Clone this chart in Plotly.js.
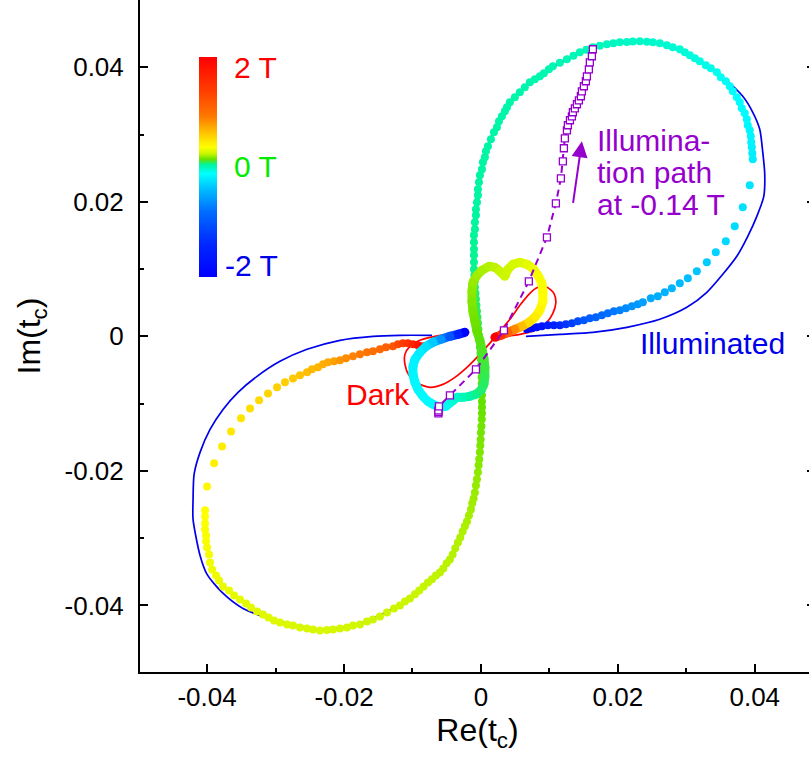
<!DOCTYPE html>
<html><head><meta charset="utf-8">
<script src="https://cdn.plot.ly/plotly-3.0.1.min.js"></script>
<style>html,body{margin:0;padding:0;overflow:hidden;background:#fff;width:809px;height:759px}#plot{position:absolute;left:0;top:-20px;width:817px;height:779px}</style>
</head><body><div id="plot"></div><script>
// ---------- data (Re(t_c), Im(t_c), field B in tesla) ----------
// Illuminated data, in sweep order from -2 T to +2 T
const illumA_X=[0.00672,0.00745,0.00818,0.00891,0.00978,0.01066,0.01153,0.01241,0.01329,0.01416,0.01504,0.01591,0.01679,0.01767,0.01854,0.01942,0.02029,0.02117,0.02205,0.02292,0.02365];
const illumA_Y=[0.00104,0.00119,0.00134,0.00149,0.00164,0.00164,0.00164,0.00178,0.00193,0.00223,0.00238,0.00268,0.00283,0.00312,0.00342,0.00372,0.00387,0.00416,0.00446,0.00476,0.00506];
const illumA_B=[-2,-1.9,-1.8,-1.7,-1.6,-1.5,-1.4,-1.3,-1.2,-1.1,-1.0,-0.95,-0.9,-0.85,-0.8,-0.75,-0.7,-0.66,-0.62,-0.58,-0.55];
const illumB_X=[0.02482,0.02584,0.02686,0.02789,0.02905,0.03022,0.03154,0.033,0.03431,0.03577,0.03708,0.03825,0.03927];
const illumB_Y=[0.00565,0.00595,0.00654,0.00714,0.00788,0.00862,0.00967,0.011,0.01249,0.01413,0.01636,0.01918,0.02245];
const illumB_B=[-0.5,-0.48,-0.46,-0.44,-0.42,-0.4,-0.37,-0.34,-0.31,-0.29,-0.27,-0.25,-0.23];
const illumC_X=[0.03971,0.03964,0.03957,0.03949,0.03942,0.03927,0.03898,0.03884,0.03854,0.03811,
0.03781,0.03738,0.03679,0.03635,0.03577,0.03504,0.03446,0.03358,0.03285,0.03197,
0.03124,0.03051,0.02978,0.02905,0.02803,0.02716,0.02613,0.02511,0.02424,0.02321,
0.02219,0.02132,0.02029,0.01935,0.0184,0.01737,0.01635,0.0154,0.01445,0.01351,
0.01256,0.01153,0.01051,0.00993,0.0092,0.00861,0.00788,0.00715,0.00642,0.00569,
0.00496,0.00423,0.0038,0.0035,0.00307,0.00263,0.00234,0.0019,0.00146,0.00102,
0.00073,0.00058,0.00029,0.00015,-0.00015,-0.00029,-0.00044,-0.00044,-0.00058,-0.00073,
-0.00073,-0.00088,-0.00088,-0.00102,-0.00102,-0.00102,-0.00102,-0.00102];
const illumC_Y=[0.02632,0.02721,0.0281,0.02885,0.02974,0.03063,0.03138,0.03227,0.03316,0.0339,
0.0348,0.03554,0.03643,0.03718,0.03792,0.03851,0.03926,0.03985,0.0403,0.04089,
0.04134,0.04178,0.04223,0.04268,0.04297,0.04327,0.04357,0.04372,0.04379,0.04387,
0.04382,0.04376,0.04372,0.04357,0.04342,0.0432,0.04297,0.0426,0.04223,0.04171,
0.04119,0.04067,0.04015,0.0397,0.03911,0.03866,0.03822,0.03777,0.03703,0.03628,
0.03554,0.0348,0.03405,0.03346,0.03271,0.03197,0.03108,0.03033,0.02929,0.02825,
0.02751,0.02662,0.02587,0.02483,0.02394,0.0229,0.02186,0.02097,0.01993,0.01888,
0.01799,0.01695,0.01591,0.01502,0.01398,0.01294,0.01204,0.011];
const illumC_B=[-0.2,-0.19,-0.18,-0.172,-0.165,-0.158,-0.152,-0.146,-0.14,-0.134,
-0.128,-0.122,-0.116,-0.11,-0.104,-0.098,-0.092,-0.086,-0.08,-0.074,
-0.068,-0.062,-0.057,-0.052,-0.047,-0.042,-0.038,-0.034,-0.03,-0.026,
-0.023,-0.02,-0.017,-0.014,-0.011,-0.008,-0.005,-0.002,0.0,0.002,
0.004,0.006,0.008,0.01,0.012,0.014,0.016,0.018,0.019,0.02,
0.021,0.022,0.023,0.024,0.025,0.026,0.027,0.028,0.029,0.03,
0.031,0.032,0.033,0.034,0.035,0.036,0.037,0.038,0.039,0.04,
0.041,0.042,0.043,0.044,0.045,0.046,0.047,0.048];
const illumD_X=[-0.00102,-0.00095,-0.00088,-0.00088,-0.0008,-0.00073,-0.00066,-0.00058,-0.00051,-0.00044,
-0.00037,-0.00029,-0.00022,-0.00015,-0.00007,0,0.00004,0.00007,0.0001,0.00012,
0.00015,0.00015,0.00015,0.00015,0.00015,0.00012,0.00007,0,-0.00004,-0.0001,
-0.00015,-0.00025,-0.00034,-0.00044,-0.00058,-0.00073,-0.00088,-0.00107,-0.00127,-0.00146,
-0.00175,-0.00204,-0.00234,-0.00267,-0.00302,-0.00336,-0.00375,-0.00413,-0.00453,-0.00501,
-0.0055,-0.00599,-0.00657,-0.00715,-0.00774,-0.00837,-0.00901,-0.00964,-0.01037,-0.0111,
-0.01183,-0.0127,-0.01372,-0.01475,-0.01577,-0.01664,-0.01767,-0.01869,-0.01956,-0.02059,
-0.02161,-0.02248,-0.02351,-0.02453,-0.0254,-0.02643,-0.02745,-0.02832,-0.02935,-0.03022,
-0.03103,-0.03183,-0.0327,-0.03358,-0.03431,-0.03519,-0.03606,-0.03679,-0.03767,-0.03825,
-0.03869,-0.03927,-0.03957,-0.03971,-0.04,-0.04015,-0.04015,-0.0403,-0.0403,-0.0403,-0.0403];
const illumD_Y=[0.00996,0.00907,0.00818,0.00729,0.00639,0.0055,0.00461,0.00372,0.00283,0.00193,
0.00104,0.00015,-0.00074,-0.00164,-0.00253,-0.00342,-0.00431,-0.0052,-0.0061,-0.00699,
-0.00788,-0.00877,-0.00967,-0.01056,-0.01145,-0.01234,-0.01338,-0.01428,-0.01532,-0.01621,
-0.01725,-0.01829,-0.01918,-0.02022,-0.02126,-0.02216,-0.0232,-0.02409,-0.02483,-0.02573,
-0.02662,-0.02751,-0.02825,-0.029,-0.02989,-0.03063,-0.03152,-0.03242,-0.03316,-0.03375,
-0.0345,-0.03509,-0.03554,-0.03613,-0.03658,-0.03718,-0.03777,-0.03836,-0.03896,-0.03941,
-0.04,-0.04045,-0.04104,-0.04164,-0.04208,-0.04238,-0.04283,-0.04297,-0.04327,-0.04342,
-0.04357,-0.04364,-0.04372,-0.04357,-0.04342,-0.04327,-0.04297,-0.04283,-0.04253,-0.04223,
-0.04178,-0.04134,-0.04089,-0.0403,-0.0397,-0.03911,-0.03851,-0.03777,-0.03718,-0.03628,
-0.03554,-0.03465,-0.03361,-0.03242,-0.03138,-0.03048,-0.02959,-0.0287,-0.02781,-0.02677,-0.02587];
const illumD_B=[0.05,0.055,0.06,0.065,0.07,0.075,0.08,0.085,0.09,0.094,
0.098,0.102,0.106,0.11,0.114,0.118,0.121,0.124,0.127,0.13,
0.133,0.136,0.139,0.142,0.145,0.149,0.153,0.157,0.161,0.165,
0.169,0.173,0.177,0.181,0.185,0.189,0.193,0.197,0.2,0.203,
0.206,0.209,0.212,0.214,0.216,0.218,0.22,0.222,0.224,0.226,
0.228,0.23,0.232,0.234,0.236,0.238,0.24,0.242,0.244,0.246,
0.248,0.25,0.252,0.254,0.256,0.258,0.26,0.262,0.264,0.266,
0.268,0.27,0.272,0.274,0.276,0.278,0.28,0.282,0.284,0.287,
0.29,0.293,0.296,0.299,0.302,0.305,0.308,0.311,0.314,0.318,
0.322,0.326,0.33,0.334,0.338,0.342,0.346,0.35,0.354,0.359,0.364];
const illumE_X=[-0.04,-0.03898,-0.03781,-0.0365,-0.03504,-0.03373,-0.03241,-0.0311,-0.02978,-0.02862,-0.02745,-0.02643,-0.0254,-0.02467,-0.0238,-0.02307,-0.02234];
const illumE_Y=[-0.02231,-0.01888,-0.01636,-0.01413,-0.01219,-0.01071,-0.00952,-0.00848,-0.00758,-0.00684,-0.00625,-0.0058,-0.00535,-0.00491,-0.00461,-0.00416,-0.00387];
const illumE_B=[0.4,0.42,0.44,0.46,0.48,0.5,0.52,0.54,0.56,0.58,0.6,0.62,0.64,0.66,0.68,0.7,0.72];
const illumF_X=[-0.02146,-0.02059,-0.01971,-0.01869,-0.01767,-0.01664,-0.01577,-0.01475,-0.01387,-0.01285,-0.01212,-0.01139,-0.01066,-0.00993,-0.0092,-0.00847];
const illumF_Y=[-0.00372,-0.00357,-0.00327,-0.00297,-0.00268,-0.00238,-0.00223,-0.00193,-0.00164,-0.00149,-0.00119,-0.00104,-0.00104,-0.00119,-0.00134,-0.00149];
const illumF_B=[0.76,0.8,0.84,0.88,0.92,0.96,1.0,1.05,1.1,1.2,1.3,1.4,1.5,1.65,1.8,2.0];

// Fit curve for illuminated data (blue)
const illumFitX=[-0.00715,-0.01183,-0.01577,-0.02059,-0.0254,-0.02935,-0.0327,-0.03548,-0.03767,-0.03957,-0.04103,-0.0419,-0.04205,-0.04205,-0.04103,-0.04,-0.03781,-0.03475,-0.02935,-0.02351,-0.01767,-0.01183,-0.00599,-0.00234,-0.00044,0.00015,0,-0.00044,-0.00102,-0.00102,-0.00029,0.00102,0.00307,0.00569,0.00861,0.01256,0.01635,0.02029,0.02613,0.03197,0.03533,0.03825,0.03971,0.04073,0.04117,0.04146,0.04132,0.0403,0.03898,0.03738,0.03533,0.033,0.03008,0.02613,0.02132,0.01635,0.01153,0.00657];
const illumFitY=[0.00015,0.00015,0,-0.00059,-0.00193,-0.00372,-0.00595,-0.00833,-0.01086,-0.01383,-0.01725,-0.02052,-0.02424,-0.02721,-0.03257,-0.03539,-0.03807,-0.04045,-0.04238,-0.04357,-0.04268,-0.03985,-0.03494,-0.02825,-0.02022,-0.0113,-0.00342,0.00401,0.011,0.01695,0.0229,0.02825,0.03271,0.03628,0.03866,0.04119,0.04297,0.04372,0.04357,0.04089,0.03851,0.03569,0.03331,0.03078,0.02736,0.02409,0.02082,0.01784,0.01487,0.0119,0.00922,0.00654,0.00431,0.00253,0.00134,0.00059,0.0003,0];

// Dark data (thick line) and its fit (red)
const darkX=[-0.00234,-0.00336,-0.00453,-0.00584,-0.00701,-0.00803,-0.00891,-0.00964,-0.00993,-0.00993,-0.00964,-0.0092,-0.00847,-0.00774,-0.00701,-0.00599,-0.00511,-0.00423,-0.0035,-0.00263,-0.00161,-0.00073,0,0.00044,0.00058,0.00058,0.00044,0.00015,-0.00015,-0.00058,-0.00088,-0.00117,-0.00131,-0.00131,-0.00117,-0.00058,0.00015,0.00117,0.00204,0.00277,0.0035,0.00394,0.00467,0.00569,0.00672,0.00759,0.00832,0.00891,0.00905,0.00905,0.00861,0.00788,0.00701,0.00599,0.00496,0.00394,0.00292,0.00204];
const darkY=[0.00059,0.0003,0,-0.00045,-0.00089,-0.00149,-0.00238,-0.00342,-0.00446,-0.00565,-0.00684,-0.00788,-0.00892,-0.00967,-0.01011,-0.01056,-0.01041,-0.00967,-0.00907,-0.00907,-0.00892,-0.00862,-0.00803,-0.00714,-0.00595,-0.00461,-0.00327,-0.00193,-0.00059,0.00074,0.00223,0.00372,0.0052,0.00669,0.00803,0.00907,0.00981,0.01041,0.01026,0.00967,0.00892,0.00996,0.01071,0.011,0.01071,0.01011,0.00907,0.00788,0.00654,0.0052,0.00387,0.00283,0.00208,0.00149,0.00104,0.00059,0.00015,-0.00015];
const darkB=[-2,-1.5,-1.0,-0.6,-0.35,-0.25,-0.2,-0.18,-0.17,-0.16,-0.155,-0.15,-0.145,-0.14,-0.14,-0.135,-0.1,-0.06,-0.03,0,0.03,0.05,0.07,0.08,0.09,0.1,0.11,0.12,0.13,0.14,0.15,0.16,0.17,0.18,0.19,0.2,0.21,0.22,0.23,0.24,0.25,0.26,0.27,0.28,0.3,0.32,0.34,0.35,0.36,0.37,0.4,0.44,0.5,0.65,0.85,1.1,1.5,2.0];
const darkFitX=[-0.00263,-0.00453,-0.00672,-0.00891,-0.01037,-0.0111,-0.0111,-0.01051,-0.0092,-0.00745,-0.00555,-0.0038,-0.00204,-0.00058,0.00102,0.00263,0.00423,0.00569,0.00715,0.00832,0.00964,0.01066,0.01095,0.01051,0.00949,0.00788,0.00569,0.00394,0.00263];
const darkFitY=[0.00059,0.0003,0,-0.00059,-0.00149,-0.00268,-0.00416,-0.0058,-0.00699,-0.00758,-0.00714,-0.0061,-0.00461,-0.00312,-0.00134,0.00059,0.00253,0.00461,0.00639,0.00729,0.00729,0.00639,0.00506,0.00342,0.00193,0.00089,0.0003,0,-0.0003];

// Illumination path at -0.14 T
const pathX=[-0.00621,-0.00621,-0.00621,-0.00613,-0.00453,-0.00073,0.00336,0.007,0.00964,0.01095,0.01168,0.01197,0.01212,0.01226,0.01256,0.0127,0.013,0.01329,0.01343,0.01372,0.01402,0.01431,0.0146,0.01475,0.01504,0.01533,0.01548,0.01577,0.01591,0.01621,0.01635];
const pathY=[-0.01145,-0.01123,-0.011,-0.01041,-0.00877,-0.00491,0.00089,0.00818,0.01472,0.01978,0.02349,0.02602,0.02796,0.02944,0.03063,0.03138,0.03212,0.03271,0.03331,0.0339,0.0345,0.03509,0.03569,0.03643,0.03718,0.03792,0.03866,0.0397,0.04074,0.04164,0.04268];

const xTickVals=[-0.04,-0.02,0,0.02,0.04], xTickText=['-0.04','-0.02','0','0.02','0.04'];
const yTickVals=[-0.04,-0.02,0,0.02,0.04], yTickText=['-0.04','-0.02','0','0.02','0.04'];
const minorVals=[-0.05,-0.03,-0.01,0.01,0.03,0.05];
const fieldMin=-2, fieldMax=2;
const cbLabels=['2 T','0 T','-2 T'];

// ---------- styling ----------
const FONT='Liberation Sans, Arial, sans-serif';
const PURPLE='rgb(150,0,205)', BLUE='rgb(0,0,235)', RED='rgb(255,0,0)';
const scale=[[0,'rgb(0,0,255)'],[0.15,'rgb(0,40,255)'],[0.3,'rgb(0,110,255)'],[0.4,'rgb(0,190,255)'],[0.47,'rgb(0,255,255)'],[0.51,'rgb(0,245,160)'],[0.535,'rgb(100,225,0)'],[0.56,'rgb(200,245,0)'],[0.59,'rgb(255,255,0)'],[0.65,'rgb(255,200,0)'],[0.73,'rgb(255,120,0)'],[0.85,'rgb(255,60,0)'],[1,'rgb(255,0,0)']];
function colorAt(b){
  const t=Math.max(0,Math.min(1,(b-fieldMin)/(fieldMax-fieldMin)));
  for(let i=1;i<scale.length;i++){
    if(t<=scale[i][0]){
      const a=scale[i-1],c=scale[i];const u=(t-a[0])/(c[0]-a[0]);
      const p=a[1].match(/\d+/g).map(Number),q=c[1].match(/\d+/g).map(Number);
      return 'rgb('+p.map((v,k)=>Math.round(v+(q[k]-v)*u)).join(',')+')';
    }
  }
  return scale[scale.length-1][1];
}

const illumX=[].concat(illumA_X,illumB_X,illumC_X,illumD_X,illumE_X,illumF_X);
const illumY=[].concat(illumA_Y,illumB_Y,illumC_Y,illumD_Y,illumE_Y,illumF_Y);
const illumBf=[].concat(illumA_B,illumB_B,illumC_B,illumD_B,illumE_B,illumF_B);

const traces=[];
traces.push({x:illumFitX,y:illumFitY,mode:'lines',line:{color:BLUE,width:1.7,shape:'spline',smoothing:0.7},hoverinfo:'skip',showlegend:false});
traces.push({x:darkFitX,y:darkFitY,mode:'lines',line:{color:RED,width:1.7,shape:'spline',smoothing:0.7},hoverinfo:'skip',showlegend:false});
traces.push({x:illumX,y:illumY,mode:'markers',showlegend:false,
  marker:{size:8,color:illumBf,colorscale:scale,cmin:fieldMin,cmax:fieldMax,line:{width:0},showscale:true,
    colorbar:{x:0.0874,xanchor:'left',y:0.7515,yanchor:'middle',len:220,lenmode:'pixels',thickness:18,thicknessmode:'pixels',outlinewidth:0,showticklabels:false,ticks:'',xpad:0,ypad:0,bgcolor:'rgba(0,0,0,0)'}}});
for(let i=0;i<darkX.length-1;i++){
  traces.push({x:[darkX[i],darkX[i+1]],y:[darkY[i],darkY[i+1]],mode:'lines',line:{color:colorAt((darkB[i]+darkB[i+1])/2),width:9},hoverinfo:'skip',showlegend:false});
}
traces.push({x:darkX,y:darkY,mode:'markers',marker:{size:9,color:darkB,colorscale:scale,cmin:fieldMin,cmax:fieldMax,line:{width:0}},showlegend:false});
traces.push({x:pathX,y:pathY,mode:'lines+markers',line:{color:PURPLE,width:2,dash:'7px,5px'},marker:{symbol:'square',size:7,color:'white',line:{color:PURPLE,width:1.3}},showlegend:false});

function ann(text,x,y,color,xanchor){return {text:text,x:x,y:y,xref:'x',yref:'y',xanchor:xanchor||'left',yanchor:'middle',showarrow:false,font:{family:FONT,size:30,color:color}};}
const annotations=[
  ann('Illumina-',0.01664,0.02915,PURPLE),
  ann('tion path',0.01664,0.02439,PURPLE),
  ann('at -0.14 T',0.01664,0.01963,PURPLE),
  ann('Illuminated',0.02292,-0.00104,BLUE),
  ann('Dark',-0.02,-0.00862,RED),
  ann(cbLabels[0],-0.02949,0.04,RED,'right'),
  ann(cbLabels[1],-0.02949,0.02528,'rgb(0,235,0)','right'),
  ann(cbLabels[2],-0.02935,0.01056,'rgb(0,0,235)','right'),
  {x:0.01475,y:0.029,ax:0.01343,ay:0.01963,xref:'x',yref:'y',axref:'x',ayref:'y',text:'',showarrow:true,arrowhead:2,arrowsize:1.6,arrowwidth:2,arrowcolor:PURPLE}
];

const axisCommon={showline:true,linewidth:2,linecolor:'#000',showgrid:false,zeroline:false,ticks:'inside',ticklen:8,tickwidth:2,tickcolor:'#000',
  tickmode:'array',tickfont:{family:FONT,size:26,color:'#000'},
  minor:{tickmode:'array',tickvals:minorVals,ticks:'inside',ticklen:4,tickwidth:2,tickcolor:'#000',showgrid:false}};
const layout={
  width:817,height:779,margin:{l:140,r:2,t:20,b:87,autoexpand:false},
  paper_bgcolor:'#fff',plot_bgcolor:'#fff',font:{family:FONT,color:'#000'},
  xaxis:Object.assign({},axisCommon,{range:[-0.0498,0.0488],tickvals:xTickVals,ticktext:xTickText,ticklabelstandoff:1,
    title:{text:'Re(t<sub>c</sub>)',font:{family:FONT,size:32,color:'#000'},standoff:1}}),
  yaxis:Object.assign({},axisCommon,{range:[-0.0499,0.05],tickvals:yTickVals,ticktext:yTickText,mirror:'ticks',ticklabelstandoff:9,
    title:{text:'Im(t<sub>c</sub>)',font:{family:FONT,size:32,color:'#000'},standoff:14}}),
  annotations:annotations,showlegend:false
};
Plotly.newPlot('plot',traces,layout,{staticPlot:true,displayModeBar:false});
</script></body></html>
